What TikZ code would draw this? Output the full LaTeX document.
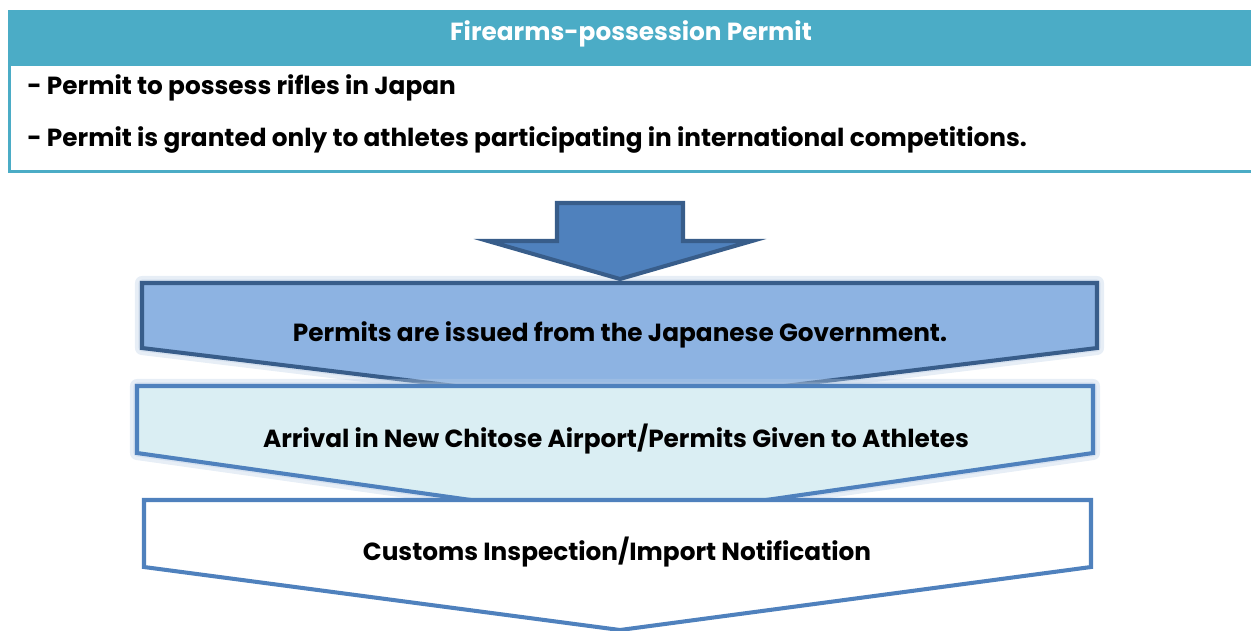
\documentclass[tikz,border=0pt]{standalone}
\usepackage{fontspec}
\setmainfont{Poppins}
\usetikzlibrary{positioning}
\definecolor{hdrColor}{HTML}{4BACC6}
\definecolor{arrColor}{HTML}{4F81BD}
\definecolor{darkColor}{HTML}{385D8A}
\definecolor{stepOneColor}{HTML}{8DB3E2}
\definecolor{stepTwoColor}{HTML}{DAEEF3}
\tikzset{
	lbl/.style={font=\bfseries\fontsize{14.1}{16}\selectfont, text=black, inner sep=0},
	glow/.style={line width=#1, draw=arrColor!40, opacity=0.35, line join=round},
	glow/.default=8pt,
	chev/.style={line join=miter, line width=2.3pt}
}

\begin{document}
\begin{tikzpicture}[x=0.02cm,y=-0.02cm]
	\useasboundingbox (0,0) rectangle (1251,630);
	% header box
	\fill[hdrColor] (8,10) rectangle (1262,66);
	\draw[hdrColor, line width=1.7pt] (9.5,66) -- (9.5,171.5) -- (1262,171.5);
	\node[lbl, text=white] (title) at (631,34) {Firearms-possession Permit};
	\node[lbl, anchor=west] (pt1) at (27,88) {- Permit to possess rifles in Japan};
	\node[lbl, anchor=west] (pt2) at (27,140) {- Permit is granted only to athletes participating in international competitions.};
	
	% steps
	\draw[glow] (142,283) -- (1097,283) -- (1097,348) -- (620,406) -- (142,348) -- cycle;
	\draw[glow=4pt] (142,283) -- (1097,283) -- (1097,348) -- (620,406) -- (142,348) -- cycle;
	\draw[chev, fill=stepOneColor, draw=darkColor] (142,283) -- (1097,283) -- (1097,348) -- (620,406) -- (142,348) -- cycle;
	\draw[fill=arrColor, draw=darkColor, line width=2.3pt, line join=miter] (557,203) -- (683,203) -- (683,241) -- (752,241) -- (620,279) -- (488,241) -- (557,241) -- cycle;
	\node[lbl] (s1) at (620,335) {Permits are issued from the Japanese Government.};
	
	\draw[glow] (137,386) -- (1093,386) -- (1093,453) -- (620,521) -- (137,453) -- cycle;
	\draw[glow=4pt] (137,386) -- (1093,386) -- (1093,453) -- (620,521) -- (137,453) -- cycle;
	\draw[chev, fill=stepTwoColor, draw=arrColor] (137,386) -- (1093,386) -- (1093,453) -- (620,521) -- (137,453) -- cycle;
	\node[lbl] (s2) at (616,439) {Arrival in New Chitose Airport/Permits Given to Athletes};
	
	\draw[chev, fill=white, draw=arrColor] (144,500) -- (1091,500) -- (1091,567) -- (620,630) -- (144,567) -- cycle;
	\node[lbl] (s3) at (617,552) {Customs Inspection/Import Notification};
\end{tikzpicture}
\end{document}
